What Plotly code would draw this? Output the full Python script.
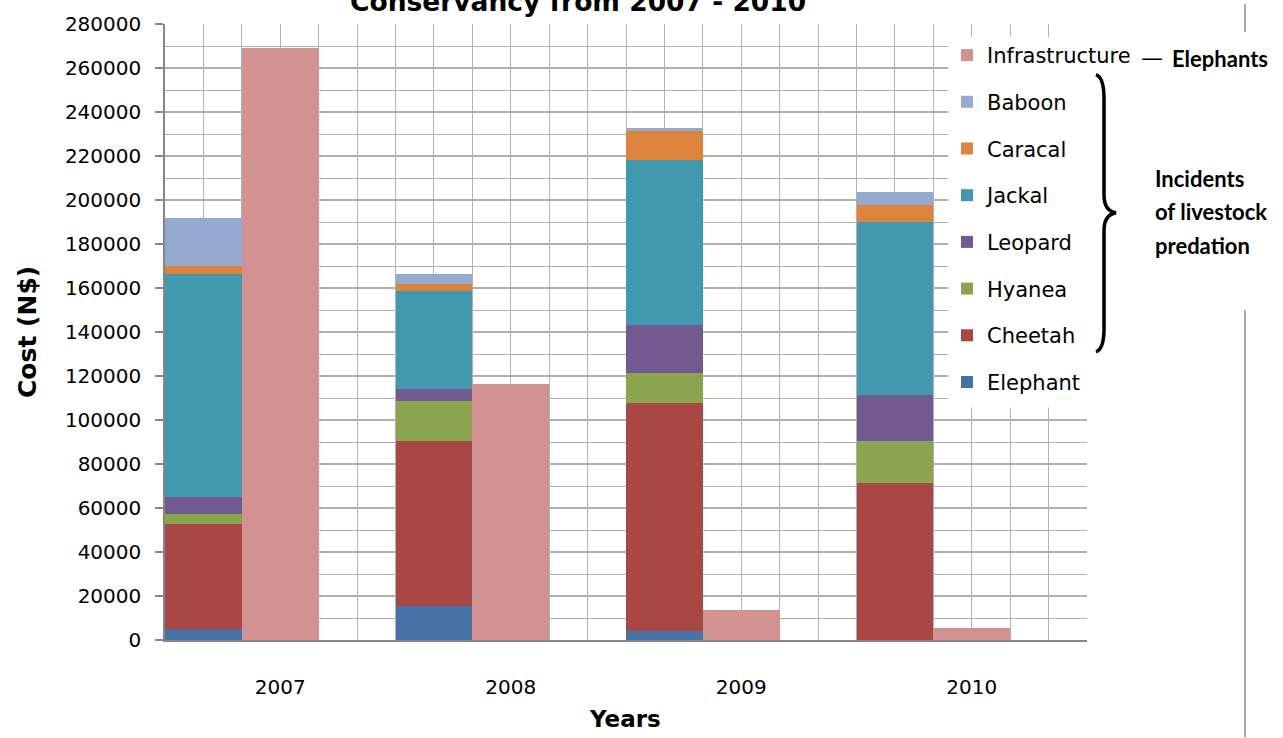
import plotly.graph_objects as go

# ---------------- data ----------------
years = ["2007", "2008", "2009", "2010"]
elephant = [4800, 15500, 4000, 0]
cheetah = [48000, 74800, 103900, 71400]
hyanea = [4600, 18500, 13600, 18900]
leopard = [7800, 5500, 21800, 20900]
jackal = [101100, 44200, 74800, 78600]
caracal = [3900, 3200, 13700, 8100]
baboon = [21800, 4500, 800, 5800]
infrastructure = [269300, 116500, 13500, 5400]
y_ticks = list(range(0, 280001, 20000))

series = [
    ("Elephant", elephant, "#4672A6"),
    ("Cheetah", cheetah, "#A84744"),
    ("Hyanea", hyanea, "#8AA54E"),
    ("Leopard", leopard, "#72598F"),
    ("Jackal", jackal, "#4298AE"),
    ("Caracal", caracal, "#DC843D"),
    ("Baboon", baboon, "#94AACF"),
]

# category layout: each year occupies 3 units (stack, infrastructure, gap)
x_stack = [3 * i + 0.5 for i in range(len(years))]
x_infra = [3 * i + 1.5 for i in range(len(years))]

# plot-area pixel frame (for decoration placement)
L, R, T, B = 165, 1087, 20, 640
W, H = 1283, 738


def px(x):
    return (x - L) / (R - L)


def py(y):
    return (B - y) / (B - T)


fig = go.Figure()
n = len(series)
for i, (name, vals, col) in enumerate(series):
    fig.add_trace(go.Bar(x=x_stack, y=vals, name=name, width=1,
                         marker=dict(color=col, line=dict(width=0)),
                         legendgroup=name, legendrank=n + 1 - i))
fig.add_trace(go.Bar(x=x_infra, y=infrastructure, name="Infrastructure", width=1,
                     marker=dict(color="#D29291", line=dict(width=0)),
                     legendgroup="Infrastructure", legendrank=0))

grid = "#b0b0b0"
axc = "#868686"
tickfont = dict(family="DejaVu Sans", size=20, color="#000000")

fig.update_layout(
    width=W, height=H,
    margin=dict(l=L, r=W - R, t=T, b=H - B),
    paper_bgcolor="white", plot_bgcolor="white",
    barmode="stack", bargap=0,
    showlegend=True,
    legend=dict(
        x=px(947), y=py(31), xanchor="left", yanchor="top",
        bgcolor="rgba(0,0,0,0)", borderwidth=0,
        traceorder="grouped", tracegroupgap=16.4,
        font=dict(family="DejaVu Sans", size=21, color="#000000"),
    ),
    xaxis=dict(
        range=[0, 12], tickmode="array", tickvals=x_infra, ticktext=years,
        ticks="", showgrid=True, gridcolor=grid, gridwidth=1,
        minor=dict(dtick=0.5, tick0=0, showgrid=True, gridcolor=grid, gridwidth=1, ticks=""),
        showline=True, linecolor=axc, linewidth=1.5, zeroline=False,
        tickfont=tickfont, ticklabelstandoff=28,
    ),
    xaxis2=dict(
        overlaying="x", matches="x", anchor="y", range=[0, 12],
        tickmode="linear", tick0=0, dtick=1, ticks="outside", ticklen=8,
        tickcolor=axc, tickwidth=1.5, showticklabels=False,
        showgrid=True, gridcolor=grid, gridwidth=1.5, zeroline=False, showline=False,
    ),
    yaxis=dict(
        range=[0, 280000], tickmode="array", tickvals=y_ticks,
        ticktext=[str(v) for v in y_ticks],
        ticks="outside", ticklen=8, tickcolor=axc, tickwidth=1.5,
        showgrid=True, gridcolor=grid, gridwidth=1.5,
        minor=dict(dtick=10000, tick0=0, showgrid=True, gridcolor=grid, gridwidth=1, ticks=""),
        showline=True, linecolor=axc, linewidth=1.5, zeroline=False,
        tickfont=tickfont, ticklabelstandoff=10,
    ),
)

bold = dict(family="DejaVu Sans", color="#000000")
side = dict(family="Lato", size=22, color="#000000")
ann = [
    dict(text="<b>Conservancy from 2007 - 2010</b>", x=px(578), y=py(15),
         xanchor="center", yanchor="bottom", font=dict(size=26.5, **bold)),
    dict(text="<b>Cost (N$)</b>", x=px(27), y=py(330), textangle=-90,
         xanchor="center", yanchor="middle", font=dict(size=25, **bold)),
    dict(text="<b>Years</b>", x=px(625), y=py(720),
         xanchor="center", yanchor="middle", font=dict(size=23, **bold)),
    dict(text="—", x=px(1139), y=py(54),
         xanchor="left", yanchor="middle",
         font=dict(family="DejaVu Sans", size=22, color="#000000")),
    dict(text="<b>Elephants</b>", x=px(1170), y=py(55),
         xanchor="left", yanchor="middle", font=side),
    dict(text="<b>Incidents</b>", x=px(1153), y=py(175),
         xanchor="left", yanchor="middle", font=side),
    dict(text="<b>of livestock</b>", x=px(1153), y=py(209),
         xanchor="left", yanchor="middle", font=side),
    dict(text="<b>predation</b>", x=px(1153), y=py(243),
         xanchor="left", yanchor="middle", font=side),
]
for a in ann:
    a.update(xref="paper", yref="paper", showarrow=False)
fig.update_layout(annotations=ann)

# curly brace
pts = "M {} {} Q {} {} {} {} L {} {} Q {} {} {} {} Q {} {} {} {} L {} {} Q {} {} {} {}".format(
    px(1096), py(71), px(1104), py(74), px(1104), py(95),
    px(1104), py(192),
    px(1104), py(208), px(1116), py(210),
    px(1104), py(212), px(1104), py(228),
    px(1104), py(327),
    px(1104), py(347), px(1096), py(350),
)
shapes = [
    # white legend panel over the grid
    dict(type="rect", xref="paper", yref="paper", x0=px(948), x1=1.0,
         y0=py(406), y1=py(33), fillcolor="white", line=dict(width=0), layer="above"),
    dict(type="path", path=pts, xref="paper", yref="paper",
         line=dict(color="#000000", width=3.5), layer="above"),
    dict(type="line", xref="paper", yref="paper", x0=px(1245), x1=px(1245),
         y0=py(0), y1=py(28), line=dict(color="#8c8c8c", width=1.5)),
    dict(type="line", xref="paper", yref="paper", x0=px(1245), x1=px(1245),
         y0=py(308), y1=py(738), line=dict(color="#8c8c8c", width=1.5)),
]
fig.update_layout(shapes=shapes)

fig.write_html("out.html")
